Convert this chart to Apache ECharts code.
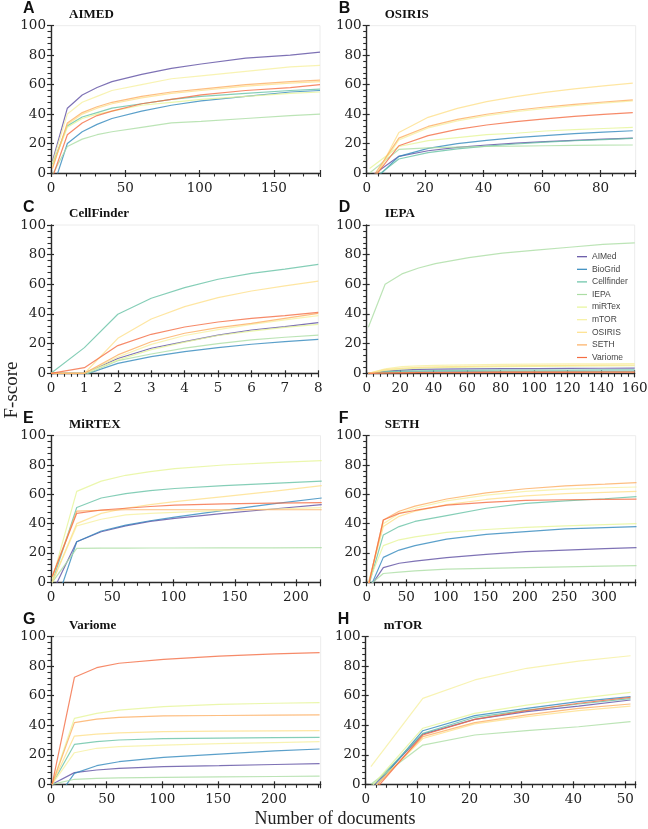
<!DOCTYPE html>
<html>
<head>
<meta charset="utf-8">
<script src="https://cdn.jsdelivr.net/npm/echarts@6/dist/echarts.min.js"></script>
<style>
  html, body { margin: 0; padding: 0; background: #fff; }
  #main { width: 648px; height: 829px; }
</style>
</head>
<body>
<div id="main"></div>
<script>
// corpora used for training (one line per model)
const seriesNames = ['AIMed', 'BioGrid', 'Cellfinder', 'IEPA', 'miRTex', 'mTOR', 'OSIRIS', 'SETH', 'Variome'];
const lineColors = ['#5e4fa2', '#3288bd', '#66c2a5', '#abdda4', '#e6f598', '#f6f0a0', '#fee08b', '#fdae61', '#f46d43'];

const panelLetters = ['A', 'B', 'C', 'D', 'E', 'F', 'G', 'H'];
const panelTitles = ['AIMED', 'OSIRIS', 'CellFinder', 'IEPA', 'MiRTEX', 'SETH', 'Variome', 'mTOR'];
const yTicks = [0, 20, 40, 60, 80, 100];

// A - AIMED
const aimedDocs = [1, 11, 21, 31, 41, 61, 81, 101, 131, 161, 181];
const aimedScores = [
  [8, 44, 53, 58, 62, 67, 71, 74, 78, 80, 82],
  [-11, 20, 28, 33, 37, 42, 46, 49, 52, 55, 56],
  [6, 32, 38, 41, 44, 47, 50, 52, 54, 56, 57],
  [-1, 18, 23, 26, 28, 31, 34, 35, 37, 39, 40],
  [5, 31, 37, 40, 42, 46, 48, 50, 52, 54, 55],
  [7, 40, 48, 52, 56, 60, 64, 66, 69, 72, 73],
  [4, 33, 40, 44, 47, 51, 54, 56, 59, 61, 62],
  [3, 34, 41, 45, 48, 52, 55, 57, 60, 62, 63],
  [-3, 26, 34, 39, 42, 47, 50, 53, 56, 58, 60]
];

// B - OSIRIS
const osirisDocs = [1, 11, 21, 31, 41, 51, 61, 71, 81, 91];
const osirisScores = [
  [-3, 11.3, 15.1, 17.4, 19, 20.3, 21.3, 22.2, 23, 23.7],
  [-8, 11.3, 16.7, 19.9, 22.2, 24, 25.4, 26.7, 27.8, 28.7],
  [-6, 9.5, 13.8, 16.4, 18.2, 19.7, 20.9, 21.9, 22.7, 23.5],
  [0, 16, 17, 17.5, 18, 18.3, 18.5, 18.7, 18.9, 19],
  [3, 18, 22, 24, 26, 27, 28.5, 29.4, 30.2, 31],
  [-7.5, 22.5, 30.6, 35.4, 39, 41.7, 43.9, 45.8, 47.4, 48.9],
  [-10.5, 27.5, 37.8, 43.9, 48.4, 51.8, 54.7, 57.1, 59.1, 61],
  [-6, 23.7, 31.6, 36.4, 39.9, 42.6, 44.8, 46.6, 48.2, 49.7],
  [-7, 18.5, 25.4, 29.6, 32.6, 34.9, 36.8, 38.4, 39.8, 41]
];

// C - CellFinder
const cellDocs = [0, 1, 2, 3, 4, 5, 6, 7, 8];
const cellScores = [
  [0, 0, 10, 16.9, 21.3, 25.8, 29.2, 31.5, 34.2],
  [0, -1, 6.7, 11.2, 14.6, 17.3, 19.6, 21.3, 22.9],
  [0, 17.3, 39.8, 50.6, 57.8, 63.4, 67.4, 70.3, 73.5],
  [0, -1, 8.5, 13, 17, 20, 22.5, 24.3, 25.8],
  [0, 0, 9, 16, 21, 25.5, 28.5, 31, 33],
  [0, 0, 11, 19.5, 25.5, 29.5, 33, 36, 38.9],
  [0, 0, 23.6, 36.6, 45, 51, 55.5, 59, 62.2],
  [0, 0, 12.4, 21.3, 27, 30.8, 33.7, 37, 40.4],
  [0, 3.8, 18.7, 26.3, 31.2, 34.6, 37, 38.9, 41.1]
];

// D - IEPA
const iepaDocs = [1, 11, 21, 31, 41, 61, 81, 101, 121, 141, 160];
const iepaScores = [
  [0, 1.5, 2.2, 2.6, 2.8, 3, 3.1, 3.2, 3.3, 3.4, 3.5],
  [0, 0.5, 0.8, 1, 1, 1.1, 1.2, 1.2, 1.3, 1.3, 1.3],
  [0, 1, 1.5, 1.7, 1.8, 2, 2.1, 2.2, 2.2, 2.3, 2.3],
  [31, 60, 67, 71, 74, 78, 81, 83, 85, 87, 88],
  [0, 2, 3, 3.5, 3.8, 4.2, 4.5, 4.7, 4.9, 5, 5.1],
  [0, 3, 4.5, 5, 5.3, 5.7, 6, 6.2, 6.3, 6.4, 6.5],
  [0, 2.5, 3.5, 4, 4.3, 4.7, 5, 5.2, 5.4, 5.5, 5.6],
  [0, 0.3, 0.5, 0.6, 0.7, 0.8, 0.9, 0.9, 1, 1, 1],
  [0, 0.2, 0.3, 0.4, 0.5, 0.5, 0.6, 0.6, 0.6, 0.7, 0.7]
];

// E - MiRTEX
const mirtexDocs = [1, 21, 41, 61, 81, 101, 141, 181, 221];
const mirtexScores = [
  [-7, 27.7, 34.5, 38.5, 41.5, 43.6, 47, 50, 53],
  [-22, 27.7, 35, 39, 42, 44.5, 49, 53.5, 57.5],
  [0, 51, 57.5, 60.5, 62.5, 64, 66, 67.5, 69],
  [0, 23.2, 23.3, 23.3, 23.4, 23.4, 23.5, 23.5, 23.6],
  [2, 62, 69, 73, 75.5, 77.5, 80, 81.7, 83],
  [0, 38.5, 43, 46, 47, 47.7, 49, 50, 51],
  [0, 40, 47, 50.5, 53, 55, 58.5, 62, 66],
  [4, 48.5, 49, 49.5, 49.5, 49.5, 49.5, 49.5, 49.5],
  [4, 47, 49.3, 50.5, 51.7, 52.7, 53.5, 54, 54.3]
];

// F - SETH
const sethDocs = [1, 21, 41, 61, 101, 151, 201, 251, 301, 341];
const sethScores = [
  [-6, 10, 13, 14.5, 16.8, 19, 20.9, 22, 23, 23.6],
  [-8, 17, 22, 25, 29.5, 32.7, 34.5, 36.4, 37.3, 38],
  [-5, 32.3, 38, 41.5, 45.5, 50.5, 53.9, 55.5, 57, 58.4],
  [-3, 6, 7, 7.8, 9, 9.5, 10, 10.5, 11, 11.4],
  [-2, 25, 29, 31, 34, 36, 37.5, 38.5, 39.3, 40],
  [-3, 40, 47, 50.5, 55.5, 59.5, 62, 63.5, 64.5, 65],
  [-3, 38, 45, 48.5, 53, 56.5, 59, 60.5, 61.3, 62],
  [-5, 42.5, 48.5, 52, 56.8, 61, 63.8, 65.8, 67, 68],
  [-5, 42.5, 47, 49, 52.7, 54.5, 55.9, 56.3, 56.6, 56.8]
];

// G - Variome
const variomeDocs = [1, 21, 41, 61, 101, 151, 201, 241];
const variomeScores = [
  [0, 7.9, 9.7, 10.8, 12, 12.6, 13.4, 14],
  [-14, 7.4, 12.6, 15.3, 18.3, 20.5, 22.6, 23.9],
  [0, 27, 28.9, 30, 30.9, 31.3, 31.6, 31.8],
  [0, 3.4, 4, 4.3, 4.7, 5, 5.3, 5.6],
  [0, 44.7, 48, 50.3, 52.6, 54.2, 54.9, 55.3],
  [0, 21.4, 24.4, 25.5, 26.6, 27.5, 28.3, 28.9],
  [0, 32.7, 34, 34.8, 35.7, 36, 36.2, 36.3],
  [0, 41.8, 44.2, 45.4, 46.3, 46.6, 46.9, 47],
  [0, 72.5, 79, 82, 84.6, 86.9, 88.3, 89.2]
];

// H - mTOR
const mtorDocs = [1, 11, 21, 31, 41, 51];
const mtorScores = [
  [-3, 34, 44, 49.2, 53, 57.1],
  [-5, 36.3, 46.5, 51.5, 56, 59.4],
  [-2, 34.5, 45.4, 50.3, 54.4, 58],
  [0, 26.6, 33.4, 36.3, 39, 42.4],
  [-2, 38, 48, 53.7, 58.2, 62.3],
  [12, 58.2, 70.7, 78.6, 83.5, 87.1],
  [-4, 31, 40.9, 45.8, 49.9, 53],
  [-5, 32.3, 41.8, 47, 51.5, 54.4],
  [-7, 33.4, 44, 49.9, 54.9, 58.9]
];

const panelDocs = [aimedDocs, osirisDocs, cellDocs, iepaDocs, mirtexDocs, sethDocs, variomeDocs, mtorDocs];
const panelScores = [aimedScores, osirisScores, cellScores, iepaScores, mirtexScores, sethScores, variomeScores, mtorScores];
const xMax = [181, 92, 8, 160, 220, 340, 242, 52];
const xStep = [50, 20, 1, 20, 50, 50, 50, 10];
const xMinorSplit = [5, 5, 5, 5, 5, 5, 5, 5];
const yMinorSplit = 5;

// panel boxes in pixels
const boxes = [
  { left: 51, top: 25.7, width: 269, height: 147.3 },
  { left: 366.7, top: 25.7, width: 269, height: 147.3 },
  { left: 51, top: 225, width: 267.3, height: 148.3 },
  { left: 366.7, top: 225, width: 268, height: 148.3 },
  { left: 51, top: 435.7, width: 269.5, height: 146.6 },
  { left: 366.7, top: 435.7, width: 269, height: 146.6 },
  { left: 51, top: 636.7, width: 269.7, height: 147.6 },
  { left: 365.7, top: 636.7, width: 270, height: 147.6 }
];

const axisColor = '#2a2a2a';
const serif = 'DejaVu Serif';

var chartDom = document.getElementById('main');
var myChart = echarts.init(chartDom, null, { renderer: 'canvas' });

var grids = [], xAxes = [], yAxes = [], series = [], titles = [];
var xInnerAxes = [], yInnerAxes = [];

// tick-only axis on the same scale, used so that the major ticks cross the axis line
function innerTickAxis(p, pos, max, step) {
  return {
    gridIndex: p, type: 'value', position: pos, offset: 0,
    min: 0, max: max, interval: step,
    axisLine: { show: true, onZero: false, lineStyle: { color: 'rgba(0,0,0,0)' } },
    axisLabel: { show: false },
    splitLine: { show: false },
    axisTick: { show: true, inside: true, length: 3, lineStyle: { color: axisColor, width: 1.2 } }
  };
}

boxes.forEach(function (b, p) {
  grids.push({
    left: b.left, top: b.top, width: b.width, height: b.height,
    containLabel: false, outerBoundsMode: 'none',
    show: true, borderColor: '#ececec', borderWidth: 1, backgroundColor: 'transparent'
  });
  xAxes.push({
    gridIndex: p, type: 'value', position: 'bottom', min: 0, max: xMax[p], interval: xStep[p],
    axisLine: { show: true, onZero: false, lineStyle: { color: axisColor, width: 1.4 } },
    axisTick: { show: true, length: 4, lineStyle: { color: axisColor, width: 1.2 } },
    minorTick: { show: true, splitNumber: xMinorSplit[p], length: 3.5, lineStyle: { color: axisColor, width: 1.1 } },
    splitLine: { show: false },
    axisLabel: {
      margin: 8, color: '#222', fontFamily: serif, fontSize: 13.5,
      showMaxLabel: xMax[p] % xStep[p] === 0
    }
  });
  yAxes.push({
    gridIndex: p, type: 'value', position: 'left', min: yTicks[0], max: yTicks[yTicks.length - 1],
    interval: yTicks[1] - yTicks[0],
    axisLine: { show: true, onZero: false, lineStyle: { color: axisColor, width: 1.4 } },
    axisTick: { show: true, length: 4, lineStyle: { color: axisColor, width: 1.2 } },
    minorTick: { show: true, splitNumber: yMinorSplit, length: 3.5, lineStyle: { color: axisColor, width: 1.1 } },
    splitLine: { show: false },
    axisLabel: { margin: 5, color: '#222', fontFamily: serif, fontSize: 13.5 }
  });
  xInnerAxes.push(innerTickAxis(p, 'bottom', xMax[p], xStep[p]));
  yInnerAxes.push(innerTickAxis(p, 'left', 100, yTicks[1] - yTicks[0]));

  seriesNames.forEach(function (name, s) {
    series.push({
      name: name, type: 'line', xAxisIndex: p, yAxisIndex: p,
      data: panelDocs[p].map(function (d, i) { return [d, panelScores[p][s][i]]; }),
      symbol: 'none', smooth: false, clip: true, silent: true,
      lineStyle: { color: lineColors[s], width: 1.2, opacity: 0.8 },
      itemStyle: { color: lineColors[s] },
      z: 2
    });
  });

  titles.push({
    text: panelLetters[p], left: b.left - 28, top: b.top - 25,
    textStyle: { fontFamily: 'Liberation Sans', fontWeight: 'bold', fontSize: 16, color: '#111' },
    padding: 0
  });
  titles.push({
    text: panelTitles[p], left: b.left + 18, top: b.top - 18,
    textStyle: { fontFamily: 'Liberation Serif', fontWeight: 'bold', fontSize: 13, color: '#111' },
    padding: 0
  });
});

var option = {
  animation: false,
  backgroundColor: '#fff',
  title: titles,
  grid: grids,
  xAxis: xAxes.concat(xInnerAxes),
  yAxis: yAxes.concat(yInnerAxes),
  legend: {
    data: seriesNames,
    orient: 'vertical',
    left: 577, top: 251.7,
    icon: 'rect',
    itemWidth: 10, itemHeight: 1.2, itemGap: 2.6,
    padding: 0,
    textStyle: { fontFamily: 'Liberation Sans', fontSize: 8.5, color: '#444', lineHeight: 10 }
  },
  graphic: [
    {
      type: 'text', x: 12, y: 390, rotation: Math.PI / 2,
      style: { text: 'F-score', fontFamily: 'Liberation Serif', fontSize: 19, fill: '#222', align: 'center', verticalAlign: 'middle' }
    },
    {
      type: 'text', x: 335, y: 819,
      style: { text: 'Number of documents', fontFamily: 'Liberation Serif', fontSize: 18, fill: '#222', align: 'center', verticalAlign: 'middle' }
    }
  ],
  series: series
};

option && myChart && myChart.setOption(option);
</script>
</body>
</html>
